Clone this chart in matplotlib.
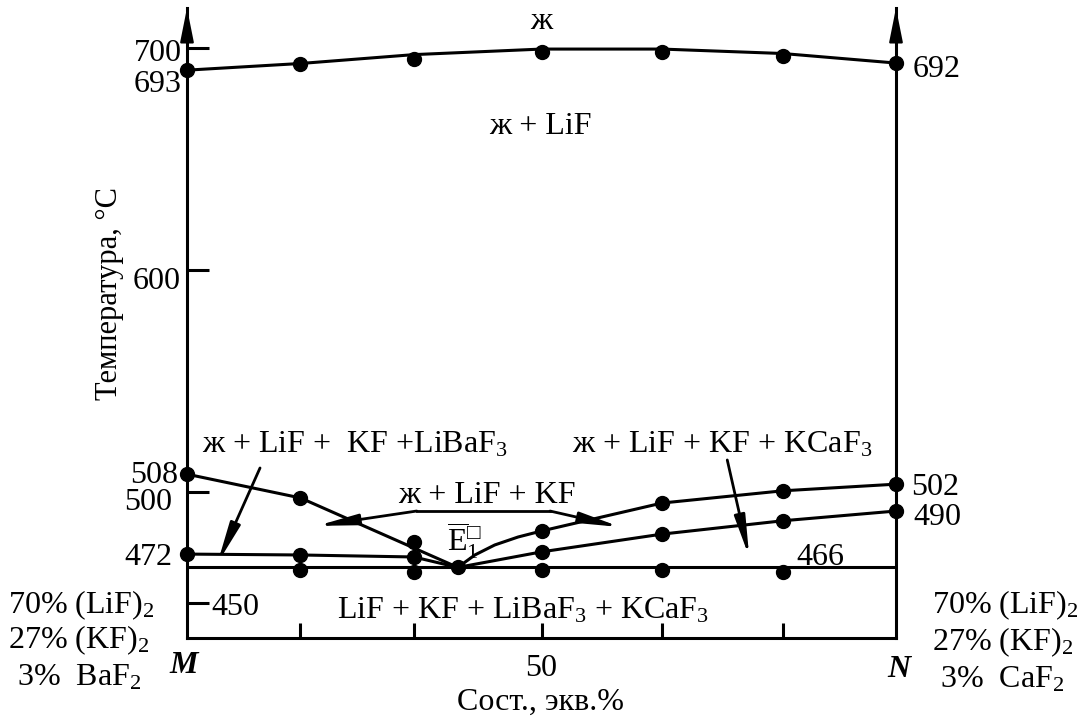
import matplotlib
matplotlib.use("Agg")
import matplotlib.pyplot as plt

plt.rcParams['font.family'] = ['Liberation Serif', 'DejaVu Serif']
plt.rcParams['mathtext.fontset'] = 'custom'
plt.rcParams['mathtext.rm'] = 'Liberation Serif'
plt.rcParams['mathtext.it'] = 'Liberation Serif:italic'
plt.rcParams['mathtext.bf'] = 'Liberation Serif:bold'
plt.rcParams['mathtext.fallback'] = 'stix'

# composition along M-N section, equiv.%
x_comp = [0, 16, 32, 50, 67, 84, 100]
x_ticks = [16, 32, 50, 67, 84]
x_eut = 38.2   # eutectic point E1
t_eut = 466

# liquidus (primary LiF)
t_liq_dots = [690, 692.8, 695, 698.2, 698.2, 696.4, 693.2]
t_liq_line = [690, 693, 697, 699.5, 699.5, 697.5, 693.2]

# M side (LiBaF3)
x_left_dots = [0, 16, 32]
t_left_up = [508, 497.3, 477.5]
t_left_low = [472, 471.6, 470.7]
x_left_up_line = [0, 16, x_eut]
t_left_up_line = [508, 497.3, t_eut]
x_left_low_line = [0, 16, 32, x_eut]
t_left_low_line = [472, 471.6, 470.7, t_eut]

# N side (KCaF3)
x_right_dots = [50, 67, 84, 100]
t_right_up = [482.4, 495, 500.5, 503.5]
t_right_low = [473, 481, 487, 491.4]
x_right_up_line = [x_eut, 40.6, 43.4, 46.7, 50, 67, 84, 100]
t_right_up_line = [t_eut, 471.6, 476.1, 479.7, 482.4, 495, 500.5, 503.5]
x_right_low_line = [x_eut, 50, 67, 84, 100]
t_right_low_line = [t_eut, 473, 481, 487, 491.4]

# points at the solidus
x_sol_dots = [16, 32, 50, 67, 84]
t_sol_dots = [464.9, 464, 465, 465, 464]

FS = 23
LW = 2.2

fig = plt.figure(figsize=(10.84, 7.24), dpi=100)
ax = fig.add_axes([187 / 1084, 1 - 638 / 724, 709 / 1084, 630 / 724])
ax.set_xlim(0, 100)
ax.set_ylim(434.2, 718)

line_kw = dict(color='k', lw=LW, solid_capstyle='round', solid_joinstyle='round')
dot_kw = dict(color='k', marker='o', ms=10, ls='none', clip_on=False, zorder=5)

ax.plot(x_comp, t_liq_line, **line_kw)
ax.plot(x_left_up_line, t_left_up_line, **line_kw)
ax.plot(x_left_low_line, t_left_low_line, **line_kw)
ax.plot(x_right_up_line, t_right_up_line, **line_kw)
ax.plot(x_right_low_line, t_right_low_line, **line_kw)
ax.plot([0, 100], [t_eut, t_eut], **line_kw)

ax.plot(x_comp, t_liq_dots, **dot_kw)
ax.plot(x_left_dots, t_left_up, **dot_kw)
ax.plot(x_left_dots, t_left_low, **dot_kw)
ax.plot(x_right_dots, t_right_up, **dot_kw)
ax.plot(x_right_dots, t_right_low, **dot_kw)
ax.plot(x_sol_dots, t_sol_dots, **dot_kw)
ax.plot([x_eut], [t_eut], **dot_kw)

# axes
ax.spines['top'].set_visible(False)
for s in ['left', 'right', 'bottom']:
    ax.spines[s].set_linewidth(LW)
ax.set_yticks([450, 500, 600, 700])
ax.set_xticks(x_ticks)
ax.tick_params(axis='y', direction='in', length=16, width=LW, labelleft=False)
ax.tick_params(axis='x', direction='in', length=11, width=LW, labelbottom=False)

head = dict(arrowstyle='-|>,head_length=1.4,head_width=0.28', mutation_scale=15,
            color='k', lw=1.5, shrinkA=0, shrinkB=0)
for xa in [0, 100]:
    ax.annotate('', xy=(xa, 718), xytext=(xa, 704), arrowprops=head,
                annotation_clip=False)

# leader arrows
lead = dict(arrowstyle='-|>,head_length=1.2,head_width=0.16', mutation_scale=20,
            color='k', lw=2, shrinkA=0, shrinkB=0)
ax.annotate('', xy=(4.3, 467.9), xytext=(10.3, 510.8), arrowprops=lead)
ax.annotate('', xy=(79.3, 470.7), xytext=(76.2, 514.4), arrowprops=lead)
ax.plot([32.4, 51.2], [491.4, 491.4], color='k', lw=2)
ax.annotate('', xy=(18.3, 484.7), xytext=(32.4, 491.4), arrowprops=lead)
ax.annotate('', xy=(61.1, 484.2), xytext=(51.2, 491.4), arrowprops=lead)

# temperature labels
tkw = dict(fontsize=FS, va='baseline', clip_on=False)
ax.text(-0.7, 694.1, '700', ha='right', **tkw)
ax.text(-0.7, 680.2, '693', ha='right', **tkw)
ax.text(-0.85, 591.4, '600', ha='right', **tkw)
ax.text(-1.3, 504.0, '508', ha='right', **tkw)
ax.text(-2.1, 491.9, '500', ha='right', **tkw)
ax.text(-2.0, 467.1, '472', ha='right', **tkw)
ax.text(3.5, 444.6, '450', ha='left', **tkw)
ax.text(102.3, 686.9, '692', ha='left', **tkw)
ax.text(102.1, 498.6, '502', ha='left', **tkw)
ax.text(102.4, 485.1, '490', ha='left', **tkw)
ax.text(86.0, 467.1, '466', ha='left', **tkw)
ax.text(50, 417.1, '50', ha='center', **tkw)

# phase fields
ax.text(49.9, 711.7, 'ж', ha='center', va='center', fontsize=FS)
ax.text(49.8, 664.4, 'ж + LiF', ha='center', va='center', fontsize=FS)
ax.text(2.1, 517.6, 'ж + LiF +  KF +LiBaF$_3$', ha='left', **tkw)
ax.text(54.3, 517.6, 'ж + LiF + KF + KCaF$_3$', ha='left', **tkw)
ax.text(29.8, 495.0, 'ж + LiF + KF', ha='left', **tkw)
ax.text(47.4, 443.2, 'LiF + KF + LiBaF$_3$ + KCaF$_3$', ha='center', **tkw)
ax.text(36.7, 473.0, r'$\overline{\mathrm{E}}_1^{□}$', ha='left', **tkw)

# end members
ax.text(-0.4, 418.5, 'M', ha='center', fontweight='bold', style='italic', **tkw)
ax.text(100.4, 416.7, 'N', ha='center', fontweight='bold', style='italic', **tkw)
ax.text(-25.2, 445.5, '70% (LiF)$_2$', ha='left', **tkw)
ax.text(-25.2, 429.7, '27% (KF)$_2$', ha='left', **tkw)
ax.text(-24.0, 413.0, '3%  BaF$_2$', ha='left', **tkw)
ax.text(105.1, 445.5, '70% (LiF)$_2$', ha='left', **tkw)
ax.text(105.1, 428.8, '27% (KF)$_2$', ha='left', **tkw)
ax.text(106.2, 411.7, '3%  CaF$_2$', ha='left', **tkw)

# axis titles
ax.text(-10.9, 589.2, 'Температура, °C', rotation=90, ha='center', va='center',
        fontsize=22)
ax.text(49.8, 402.0, 'Сост., экв.%', ha='center', **tkw)

fig.savefig('out.png', dpi=100)
